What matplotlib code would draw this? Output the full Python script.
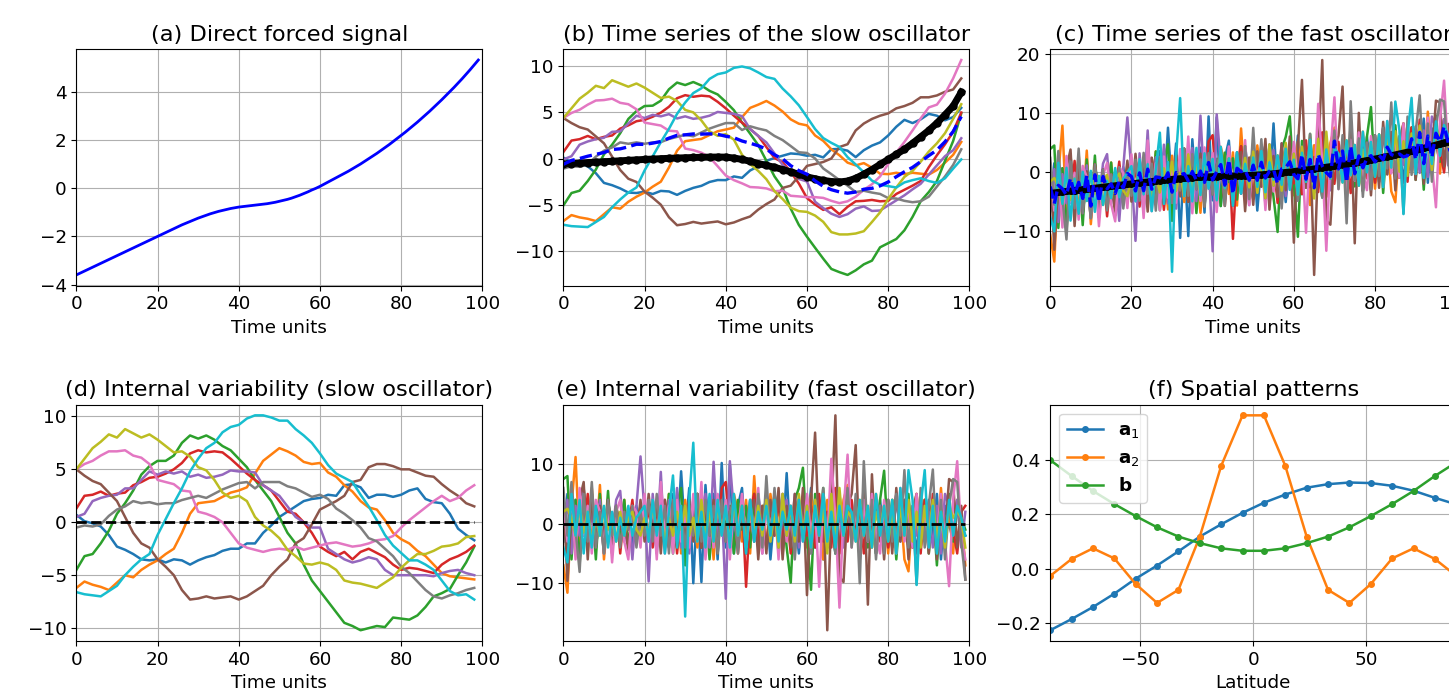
import numpy as np
import matplotlib
matplotlib.use("Agg")
import matplotlib.pyplot as plt

plt.rcParams["font.size"] = 13.2
plt.rcParams["axes.titlesize"] = 16.2
plt.rcParams["lines.linewidth"] = 1.8

# time axes
t_fast = np.arange(100)
t_slow = np.arange(0, 100, 2)

# (a) direct forced signal, one value per time unit
forced = [-3.60, -3.52, -3.44, -3.36, -3.28, -3.20, -3.12, -3.04, -2.96, -2.88,
          -2.80, -2.72, -2.64, -2.56, -2.48, -2.40, -2.32, -2.24, -2.16, -2.08,
          -2.00, -1.92, -1.84, -1.76, -1.68, -1.60, -1.52, -1.45, -1.38, -1.31,
          -1.24, -1.18, -1.12, -1.06, -1.01, -0.96, -0.92, -0.88, -0.84, -0.81,
          -0.78, -0.76, -0.74, -0.72, -0.70, -0.68, -0.66, -0.64, -0.61, -0.58,
          -0.54, -0.50, -0.46, -0.41, -0.35, -0.29, -0.22, -0.15, -0.07, 0.00,
          0.08, 0.17, 0.26, 0.35, 0.44, 0.53, 0.62, 0.71, 0.81, 0.91,
          1.01, 1.12, 1.23, 1.34, 1.45, 1.57, 1.69, 1.81, 1.94, 2.07,
          2.20, 2.33, 2.47, 2.61, 2.75, 2.90, 3.05, 3.20, 3.36, 3.52,
          3.68, 3.85, 4.02, 4.19, 4.37, 4.55, 4.74, 4.93, 5.13, 5.33]

# forced response of the slow oscillator (every 2 time units)
forced_slow = [-0.6, -0.55, -0.5, -0.45, -0.4, -0.35, -0.3, -0.25, -0.2, -0.15,
               -0.1, -0.06, -0.02, 0.02, 0.05, 0.08, 0.11, 0.13, 0.15, 0.16,
               0.15, 0.05, -0.1, -0.3, -0.55, -0.75, -0.95, -1.2, -1.45, -1.72,
               -2.0, -2.2, -2.38, -2.5, -2.55, -2.45, -2.15, -1.7, -1.2, -0.65,
               -0.1, 0.45, 1.0, 1.65, 2.35, 3.05, 3.85, 4.75, 5.7, 7.2]

# (d) internal variability of the slow oscillator, 10 members (every 2 time units)
slow_blue = [0.7, 0.1, -0.1, -0.4, -1.2, -2.3, -2.6, -3.0, -3.5, -3.6,
             -3.5, -3.8, -3.5, -3.6, -4.0, -3.6, -3.3, -3.1, -2.7, -2.5,
             -2.5, -2.0, -2.0, -1.0, -0.3, 0.5, 1.0, 1.5, 2.0, 2.2,
             2.3, 2.6, 2.5, 3.5, 3.6, 3.3, 2.3, 2.6, 2.6, 2.4,
             2.6, 3.0, 3.2, 2.2, 1.9, 1.8, 0.8, -0.6, -1.2, -1.7]
slow_orange = [-6.2, -5.6, -5.9, -6.1, -6.4, -5.7, -5.0, -5.2, -4.5, -4.0,
               -3.6, -3.0, -2.5, -1.0, 0.8, 1.8, 1.9, 2.0, 2.4, 2.8,
               3.0, 3.3, 4.6, 5.8, 6.4, 7.0, 6.7, 6.3, 5.7, 5.5,
               5.6, 4.7, 4.3, 3.5, 2.9, 2.0, 1.4, 1.2, 0.2, -1.0,
               -1.6, -2.0, -2.7, -3.2, -4.0, -4.8, -5.1, -5.2, -5.3, -5.4]
slow_green = [-4.5, -3.2, -3.0, -2.0, -0.8, 0.8, 1.8, 3.0, 4.5, 5.3,
              5.8, 5.8, 6.3, 7.5, 8.2, 7.9, 8.2, 7.8, 7.2, 6.8,
              6.0, 5.2, 4.0, 3.0, 2.0, 0.5, -1.0, -2.0, -4.0, -5.5,
              -6.5, -7.5, -8.5, -9.5, -9.8, -10.2, -10.0, -9.8, -9.9, -9.0,
              -9.1, -9.2, -8.8, -8.0, -7.0, -6.7, -6.3, -5.0, -3.8, -2.3]
slow_red = [1.3, 2.5, 2.6, 2.9, 2.5, 2.7, 2.8, 3.5, 3.8, 4.2,
            4.3, 4.6, 5.0, 5.6, 6.5, 6.8, 6.6, 6.7, 6.6, 6.0,
            5.3, 4.6, 4.0, 3.5, 3.0, 2.0, 1.0, 0.8, 0.0, -1.0,
            -2.3, -2.8, -3.2, -2.8, -3.5, -2.8, -2.5, -2.9, -3.3, -4.0,
            -4.5, -4.3, -4.4, -4.6, -4.8, -4.0, -3.5, -3.2, -2.8, -2.2]
slow_purple = [0.5, 0.8, 2.0, 2.3, 2.5, 2.6, 3.2, 3.2, 4.0, 4.8,
               4.5, 4.8, 4.6, 4.8, 4.3, 4.5, 4.2, 4.3, 4.5, 4.9,
               4.8, 4.8, 4.7, 3.5, 3.0, 2.5, 1.5, 0.5, 0.0, -0.5,
               -0.5, -2.5, -3.0, -3.5, -3.8, -3.6, -3.3, -3.5, -4.5, -5.0,
               -5.0, -5.0, -5.0, -5.0, -5.1, -4.8, -4.6, -4.5, -4.8, -5.0]
slow_brown = [5.0, 4.4, 3.9, 3.6, 2.8, 2.0, 0.5, -1.0, -2.0, -2.4,
              -3.5, -4.2, -5.0, -6.4, -7.3, -7.2, -7.0, -7.2, -7.1, -7.0,
              -7.3, -7.0, -6.5, -6.0, -5.0, -4.2, -3.5, -2.0, -1.5, -0.2,
              1.2, 1.6, 2.0, 2.5, 3.8, 4.0, 5.2, 5.5, 5.5, 5.3,
              5.0, 5.0, 4.7, 4.4, 4.3, 3.6, 3.0, 2.5, 1.8, 1.5]
slow_pink = [5.0, 5.5, 5.8, 6.3, 6.7, 6.7, 6.8, 6.3, 6.1, 5.5,
             4.0, 3.8, 3.6, 3.0, 2.9, 1.0, 0.8, 0.5, 0.0, -1.0,
             -2.0, -2.4, -2.6, -2.8, -2.6, -2.5, -2.6, -2.3, -2.6, -2.4,
             -2.2, -2.0, -1.9, -2.1, -2.3, -2.2, -2.0, -1.7, -1.6, -1.3,
             -0.5, 0.2, 0.8, 1.4, 2.0, 2.5, 2.0, 2.3, 3.0, 3.5]
slow_gray = [-0.5, -0.3, -0.4, -0.2, 0.6, 1.2, 1.5, 2.0, 1.8, 1.9,
             1.7, 1.8, 1.8, 2.1, 2.3, 2.5, 2.3, 2.7, 3.1, 3.4,
             3.7, 3.8, 3.2, 3.8, 3.8, 3.8, 3.4, 3.2, 2.8, 2.4,
             2.6, 2.2, 1.3, 0.8, 0.2, -0.5, -1.5, -1.8, -2.5, -3.2,
             -4.2, -4.8, -5.6, -6.4, -7.0, -7.2, -6.9, -6.7, -6.4, -6.2]
slow_olive = [5.0, 6.0, 7.0, 7.6, 8.3, 8.0, 8.8, 8.4, 8.0, 8.3,
              7.8, 7.2, 6.6, 6.7, 6.2, 5.2, 4.9, 4.0, 2.8, 2.3,
              2.5, 2.0, 0.5, -0.3, -0.8, -1.5, -2.6, -3.2, -3.9, -4.0,
              -3.8, -4.0, -4.5, -5.5, -5.7, -5.8, -6.0, -6.2, -5.7, -5.2,
              -4.3, -3.6, -3.0, -3.0, -2.7, -2.3, -2.2, -2.0, -1.4, -1.3]
slow_cyan = [-6.6, -6.8, -6.9, -7.0, -6.5, -6.0, -5.0, -4.2, -3.5, -3.0,
             -1.2, 0.3, 1.8, 3.2, 4.8, 6.0, 7.0, 7.5, 8.5, 9.0,
             9.2, 9.8, 10.1, 10.1, 9.9, 9.6, 9.6, 8.8, 8.2, 7.5,
             6.5, 5.4, 4.6, 4.2, 3.8, 2.6, 1.5, 0.2, -1.2, -2.2,
             -2.9, -3.6, -3.6, -4.0, -4.5, -5.5, -6.5, -6.9, -6.8, -7.3]

# (e) internal variability of the fast oscillator, 10 members
fast_blue = [-3, 5, -2, 4, -6, 3, -1, 5, -4, 2,
             -5, 4, -1, 3, -3, 0, 2, -4, 3, -1,
             4, -3, 2, -5, 6, -2, -4, 5, -3, 8.8,
             -2, 6, -10, 4, -9.8, 6.5, -3, 5, -6, 10.2,
             -4, 10, -5, 3, 6, -4, 2, -3, 5, -1,
             4, -6, 2, 5, -3, 8.5, -4, 2, -5, 3,
             -1, 6, -4, 2, -6, 3, 0, -5, 4, -2,
             5, -3, 1, -4, 3, -1, 2, -5, 4, -2,
             3, -4, 5, -2, 4, -3, 1, -5, 3, -1,
             4, -2, 5, -6, 3, 0, -3, 4, -1, -2]
fast_orange = [-7, -11.6, 3, 11.2, -4, 5, -2, 6, -3, 6.5,
               -6, 2, -5, 3, -1, 4, -4, 2, -1, 3,
               1.5, -2, 4, -3, 3, -4, 5, -2, 3, -5,
               4, -3, 2, -4, 5, -2, 3, -6, 4, -1,
               3, -4, 5, 2, -3, 4, -5, 8, -2, 3,
               -4, 5, -1, 3, -5, 2, -3, 4, -2, 3,
               -4, 5, -3, 2, -6, 4, -2, 3, -5, 4,
               6.5, -3, 2, -5, 3, 1, -4, 5, -2, 3,
               -5, 4, -2, 3, -6, -8, 2, 5, -3, 4,
               -2, 3, -4, 6, -3, 2, -5, 4, 1, -7]
fast_green = [7.5, 8, -6, 4, -7, 6, -3, 4, -6, 5,
              -4, 5.5, -5, 3, -2, 4, -4, 2, -3, 1,
              3, -2, 4, -4, 2, -3, 5, -5, 3, 6,
              -7, 4, -2, 5, -4, 3, -6, 2, -3, 4,
              -2, 3, -5, 4, -1, 3, -4, 5, -3, 2,
              4, -3, 5, -2, 3, -4, -9.9, 4, 6, 9.4,
              -2, -11.1, 5, -3, 6, -4, 2, -5, 4, -3,
              5, -2, 3, -6, 6, -4, 2, -5, 4, 8.9,
              -3, 4, -6, 3, -2, 5, -4, 2, -3, 4,
              -5, 3, -7, 4, -2, 5, -3, 2, 1, -1]
fast_red = [3, -5, 2, -3, 4, -2, 5, -4, 1, 3,
            -3, 4, -2, 3, -5, 2, -1, 4, -3, 2,
            -2, 3, -4, 2, -3, 4, -1, 3, -5, 2,
            -3, 4, -2, 5, -4, 3, -1, 2, -4, 6,
            7, -2, 3, -5, 4, -10.6, 2, 5, -3, 2,
            -4, 3, -2, 4, -3, 2, -5, 3, -1, 4,
            -2, 3, -4, 5, -3, 2, -4, 6, -5, 2,
            -3, 4, -2, 3, -5, 2, -1, 4, -3, 3,
            -4, 2, -3, 5, -2, 3, -4, 2, -5, 4,
            -3, 5, -2, 4, -4, 3, -1, -5, 2, 3]
fast_purple = [-2, 4, -5, 3, -2, 6, -4, 2, -3, 4,
               -5, 3, -2, 4, 5.5, -3, 2, -6, 3, 11.3,
               2, -9.7, 5, -3, 8.7, -5, 4, -3, 6, -4,
               3, -5, 4, -3, 2, 5, -4, 10.4, -2, 3,
               -12.6, 10.5, 2, -4, 5, -3, 4, -2, 3, -5,
               4, -2, 3, -5, 2, 4, -3, 5, -4, 2,
               3, -5, 4, -2, 3, -4, 5, -3, 2, -4,
               3, -2, 4, -5, 5, -3, 2, -4, 3, -5,
               4, -2, 5, -3, 2, -4, 3, -2, 4, -3,
               2, -4, 3, -5, 5, 3, -2, 4, -4, 2]
fast_brown = [5, -9.6, 2, -3, 4, 7, -6, 5, -4, 3,
              -3, 2, -4, 3, -1, 2, -5, 3, -2, 4,
              -3, 5, -2, 3, -5, 4, -3, 2, -4, 3,
              -2, 4, -3, 5, -4, 3, -2, 4, -5, 3,
              -3, 2, 4, -4, 3, -5, 2, 4, -6, 3,
              -5, 4, -2, 6, -6, 3, -4, 5, -3, 6,
              -12, 4, 15.3, -3, 5, -17.9, 2, 18.2, -9, -9.8,
              3, 5, 13.2, -6, 7, -13.6, 8.3, -5, 3, -6,
              4, -5, 6, -3, 4, -6, 2, 5, -4, 3,
              -5, 4, -6, 3, -2, 7.5, 7, -4, 3, -9.4]
fast_pink = [4, -3, 5, -6, 6, -2, 3, -5, 4, 2,
             -4, 3, -6.5, 2, 4, -3, -6, 3, 2, -4,
             5, -3, 4, -6, 7, -2, 3, -5, 4, -3,
             2, -4, 5, -3, 7, -6, 3, -4, 5, -2,
             4, -6, 3, -2, 5, -4, 2, -3, 6, -5,
             3, -2, 4, -6, 5, -3, 2, -5, 4, -3,
             5, -2, 3, -10.6, 4, -3, 10.9, 1, -14.1, 2,
             11.6, -4, 3, -6, 4, -3, 5, -2, -5, 4,
             -2, 3, -5, 6, -3, 2, -4, 5, -3, 2,
             -4, 3, -2, 5, -3, -10.5, 4, 10.5, -2, -6]
fast_gray = [6, -2, 7, -1, -8.1, 5, -3, 7, -4, 2,
             -5, 4, -2, 3, -4, 2, -1, 3, -4, 2,
             -2, 4, -3, 5, -2, 3, -5, 4, -3, 2,
             -4, 3, -2, 5, -3, 4, -2, 3, -5, 4,
             -3, 2, 4, -5, 3, -2, 4, -3, 5, -4,
             8, -3, 6, -4, 5, -2, 3, -6, 4, -2,
             3, -5, 4, -2, 6, -4, 3, -5, 5, -2,
             6, -4, 5, -10, 10.5, -3, 4, -6, 3, -5,
             4, -3, 5, -2, 9, -4, 3, -10.2, 6, -4,
             3, 9.1, -5, 4, -6, 3, 7.5, 7, -3, -9.4]
fast_olive = [2, 2.5, 1, -2, 3, -1.5, 2, -3, 1, -2,
              2.5, -1, 1, -3, 2, -2, 1, 2, -1, -2,
              1, -2, 3, -1, 2, -3, 1, -2, 2, -1,
              3, -2, 1, -3, 4, -2, 2, -3, 3, -1,
              2, -3, 4, -2, 3, -4, 2, -1, 3, -2,
              4, -3, 2, -4, 5, -2, 3, -3, 5, -2,
              3, -4, 4, -2, 3, -5, 5, -3, 6, -2,
              2, 1, -3, 4, -2, 3, -4, 2, -1, 3,
              -3, 2, -4, 3, -2, 4, -3, 2, -4, 3,
              -2, 4, -3, 2, -4, 3, 1, 2, 1, -4]
fast_cyan = [-4, -6.5, 5, -2, 4, -5, 2, -4, 3, -2,
             3, -4, 2, -3, 1, -2, 3, -2, 1, 2,
             3, -3, 4, -2, 3, -5, 2, 8.1, -4, 3,
             -15.6, 4, 13.6, -3, 2, -4, 5, -3, 4, -2,
             3, -4, 5, -2, 3, -5, 4, -3, 2, -1,
             3, -2, 4, -3, 2, -1, 3, -2, 4, -3,
             2, -4, 3, -2, 5, -3, 2, -4, 3, -2,
             3, 2, -3, 4, -2, 3, -4, 5, -2, 3,
             -3, 4, -5, 6, -2, 9, 4, -10.3, 3, 9,
             -4, 3, -5, 2, -3, 4, -2, 3, 1, -2]

# (f) spatial patterns
lat = np.linspace(-90, 90, 20)
a1 = [-0.225, -0.184, -0.14, -0.091, -0.036, 0.012, 0.064, 0.118, 0.163, 0.205,
      0.242, 0.272, 0.297, 0.31, 0.316, 0.314, 0.304, 0.286, 0.26, 0.236]
a2 = [-0.026, 0.036, 0.075, 0.038, -0.056, -0.125, -0.077, 0.118, 0.377, 0.562,
      0.562, 0.377, 0.118, -0.077, -0.125, -0.056, 0.038, 0.075, 0.036, -0.026]
b = [0.398, 0.34, 0.285, 0.237, 0.193, 0.152, 0.118, 0.094, 0.075, 0.066,
     0.066, 0.075, 0.094, 0.118, 0.152, 0.193, 0.237, 0.285, 0.34, 0.39]

slow_members = np.array([slow_blue, slow_orange, slow_green, slow_red, slow_purple,
                         slow_brown, slow_pink, slow_gray, slow_olive, slow_cyan])
fast_members = np.array([fast_blue, fast_orange, fast_green, fast_red, fast_purple,
                         fast_brown, fast_pink, fast_gray, fast_olive, fast_cyan])

# full signal = forced response + internal variability
slow_total = np.array(forced_slow) + slow_members
fast_total = np.array(forced) + fast_members

fig = plt.figure(figsize=(14.49, 7), dpi=100)
w, h = 0.2802, 0.3377
lefts = [0.0527, 0.3888, 0.7248]
top_y, bot_y = 0.5919, 0.0843

ax_a = fig.add_axes([lefts[0], top_y, w, h])
ax_b = fig.add_axes([lefts[1], top_y, w, h])
ax_c = fig.add_axes([lefts[2], top_y, w, h])
ax_d = fig.add_axes([lefts[0], bot_y, w, h])
ax_e = fig.add_axes([lefts[1], bot_y, w, h])
ax_f = fig.add_axes([lefts[2], bot_y, w, h])

#(a)
ax_a.plot(t_fast, forced, color="blue", lw=2)
ax_a.set_title("(a) Direct forced signal")

#(b)
for m in slow_total:
    ax_b.plot(t_slow, m)
ax_b.plot(t_slow, forced_slow, "k-o", lw=5, ms=5)
ax_b.plot(t_slow, slow_total.mean(axis=0), "b--", lw=2.4)
ax_b.set_title("(b) Time series of the slow oscillator")

#(c)
for m in fast_total:
    ax_c.plot(t_fast, m)
ax_c.plot(t_fast, forced, "k-o", lw=5, ms=4)
ax_c.plot(t_fast, fast_total.mean(axis=0), "b--", lw=2.4)
ax_c.set_title("(c) Time series of the fast oscillator")
ax_c.set_yticks([-10, 0, 10, 20])

#(d)
for m in slow_members:
    ax_d.plot(t_slow, m)
ax_d.plot(t_slow, np.zeros(len(t_slow)), "k--", lw=2)
ax_d.set_title("(d) Internal variability (slow oscillator)")

#(e)
for m in fast_members:
    ax_e.plot(t_fast, m)
ax_e.plot(t_fast, np.zeros(len(t_fast)), "k--", lw=2)
ax_e.set_title("(e) Internal variability (fast oscillator)")
ax_e.set_yticks([-10, 0, 10])

for ax in [ax_a, ax_b, ax_c, ax_d, ax_e]:
    ax.set_xlim(0, 100)
    ax.set_xticks([0, 20, 40, 60, 80, 100])
    ax.set_xlabel("Time units")
    ax.grid(True)

#(f)
ax_f.plot(lat, a1, "-o", ms=4, label=r"$\mathbf{a}_1$")
ax_f.plot(lat, a2, "-o", ms=4, label=r"$\mathbf{a}_2$")
ax_f.plot(lat, b, "-o", ms=4, label=r"$\mathbf{b}$")
ax_f.set_xlim(-90, 90)
ax_f.set_xticks([-50, 0, 50])
ax_f.set_yticks([-0.2, 0.0, 0.2, 0.4])
ax_f.set_xlabel("Latitude")
ax_f.set_title("(f) Spatial patterns")
ax_f.legend(loc="upper left")
ax_f.grid(True)

fig.savefig("out.png", dpi=100)
